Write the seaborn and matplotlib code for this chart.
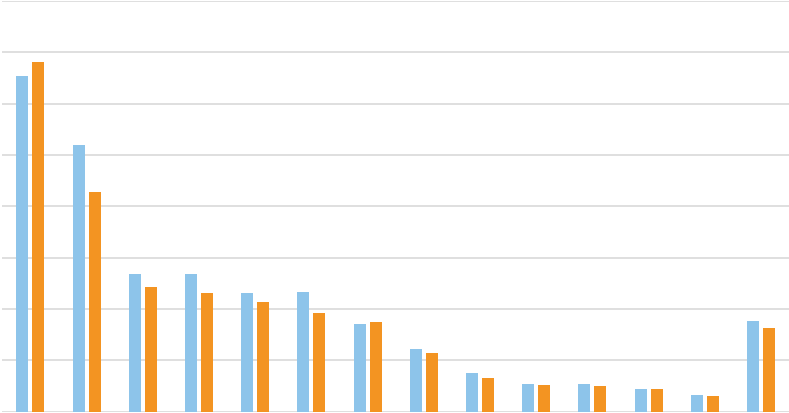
import matplotlib
matplotlib.use("Agg")
import matplotlib.pyplot as plt
import seaborn as sns
import pandas as pd

categories = [f"c{i}" for i in range(1, 15)]
series_a = [6.54, 5.20, 2.68, 2.68, 2.31, 2.33, 1.70, 1.23, 0.75, 0.55, 0.55, 0.45, 0.33, 1.77]
series_b = [6.80, 4.27, 2.43, 2.31, 2.14, 1.92, 1.74, 1.14, 0.66, 0.52, 0.50, 0.44, 0.31, 1.63]
series_names = ["A", "B"]
colors = ["#8DC4EA", "#F39422"]

df = pd.DataFrame({
    "cat": categories * 2,
    "val": series_a + series_b,
    "series": [series_names[0]] * len(categories) + [series_names[1]] * len(categories),
})

sns.set_theme(style="white")
fig = plt.figure(figsize=(7.89, 4.13), dpi=100)
ax = fig.add_axes([0.003, 0.003, 0.997, 0.995])
sns.barplot(data=df, x="cat", y="val", hue="series", palette=colors,
            width=0.57, gap=0.25, ax=ax, legend=False, saturation=1,
            edgecolor="none", zorder=3)
ax.set_ylim(0, 8)
ax.set_xlim(-0.5, len(categories) - 0.5)
ax.set_yticks(range(0, 9))
ax.grid(axis="y", color="#D9D9D9", linewidth=1.2, zorder=0)
ax.set_axisbelow(True)
for s in ax.spines.values():
    s.set_visible(False)
ax.tick_params(left=False, bottom=False, labelleft=False, labelbottom=False)
ax.set_xlabel("")
ax.set_ylabel("")
fig.savefig("out.png", dpi=100)
